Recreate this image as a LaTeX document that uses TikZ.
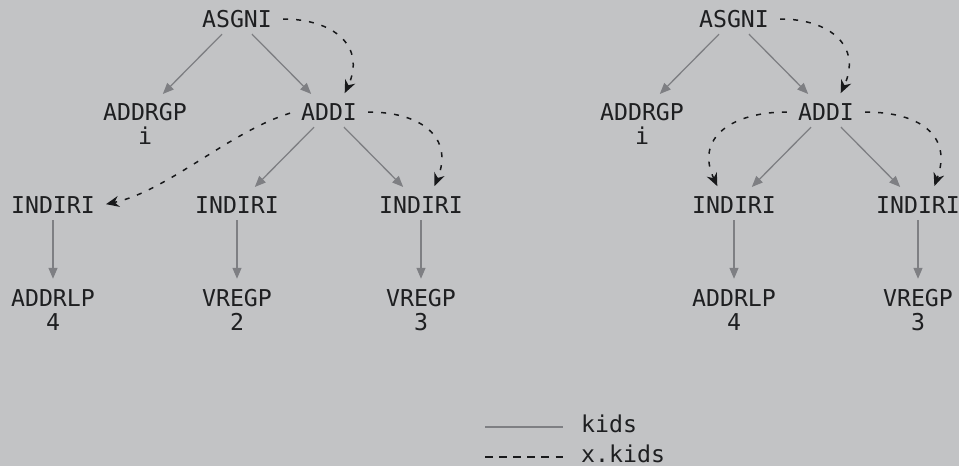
\documentclass[tikz,border=0pt]{standalone}
\usepackage{fontspec}
\setmonofont{DejaVu Sans Mono}
\usetikzlibrary{arrows.meta,calc,positioning}
\definecolor{ink}{HTML}{1E1F21}
\definecolor{kidgray}{HTML}{7E7F83}
\definecolor{xkidink}{HTML}{18191B}
\definecolor{paper}{HTML}{C2C3C5}
\tikzset{
  font=\ttfamily\fontsize{23.2pt}{28pt}\selectfont,
  op/.style={
    text=ink,
    inner sep=7pt,
    text height=16pt,
    text depth=0pt,
    label distance=4pt
  },
  val/.style={
    text=ink,
    inner sep=0pt,
    text height=17pt,
    text depth=0pt
  },
  kid/.style={
    -{Triangle[length=11pt,width=9pt]},
    draw=kidgray,
    line width=1.3pt,
    shorten >=4pt
  },
  xkid/.style={
    -{Stealth[length=13pt,width=11pt]},
    draw=xkidink,
    line width=1.5pt,
    dash pattern=on 5pt off 8pt,
    shorten <=4pt,
    shorten >=4pt
  },
  kidkey/.style={
    draw=kidgray,
    line width=2pt
  },
  xkidkey/.style={
    draw=xkidink,
    line width=1.4pt,
    dash pattern=on 7.5pt off 6.6pt
  },
  keytext/.style={
    anchor=base west,
    inner sep=0pt,
    text=ink
  }
}
\begin{document}
\begin{tikzpicture}[node distance=93pt and 92pt, on grid]
  \useasboundingbox[fill=paper] (0,0) rectangle (959pt,-466pt);

  % before
  \node[op] (asgnL) at (237pt,-19pt) {ASGNI};
  \node[op, below left=of asgnL, label={[val]below:i}] (addrgpL) {ADDRGP};
  \node[op, below right=of asgnL] (addiL) {ADDI};
  \node[op, below left=93pt and 276pt of addiL] (indL1) {INDIRI};
  \node[op, below left=of addiL] (indL2) {INDIRI};
  \node[op, below right=of addiL] (indL3) {INDIRI};
  \node[op, below=of indL1, label={[val]below:4}] (addrlpL) {ADDRLP};
  \node[op, below=of indL2, label={[val]below:2}] (vregL2) {VREGP};
  \node[op, below=of indL3, label={[val]below:3}] (vregL3) {VREGP};

  \draw[kid] (asgnL) -- (addrgpL);
  \draw[kid] (asgnL) -- (addiL);
  \draw[kid] (addiL) -- (indL2);
  \draw[kid] (addiL) -- (indL3);
  \draw[kid] (indL1) -- (addrlpL);
  \draw[kid] (indL2) -- (vregL2);
  \draw[kid] (indL3) -- (vregL3);

  \draw[xkid] (asgnL.east) to[out=0, in=65, looseness=1.4] ([xshift=14pt]addiL.north);
  \draw[xkid] (addiL.east) to[out=0, in=68, looseness=1.4] ([xshift=12pt]indL3.north);
  \draw[xkid] (addiL.west) to[out=197, in=12, looseness=0.8] (indL1.east);

  % after
  \node[op] (asgnR) at (734pt,-19pt) {ASGNI};
  \node[op, below left=of asgnR, label={[val]below:i}] (addrgpR) {ADDRGP};
  \node[op, below right=of asgnR] (addiR) {ADDI};
  \node[op, below left=of addiR] (indR1) {INDIRI};
  \node[op, below right=of addiR] (indR2) {INDIRI};
  \node[op, below=of indR1, label={[val]below:4}] (addrlpR) {ADDRLP};
  \node[op, below=of indR2, label={[val]below:3}] (vregR2) {VREGP};

  \draw[kid] (asgnR) -- (addrgpR);
  \draw[kid] (asgnR) -- (addiR);
  \draw[kid] (addiR) -- (indR1);
  \draw[kid] (addiR) -- (indR2);
  \draw[kid] (indR1) -- (addrlpR);
  \draw[kid] (indR2) -- (vregR2);

  \draw[xkid] (asgnR.east) to[out=0, in=65, looseness=1.4] ([xshift=13pt]addiR.north);
  \draw[xkid] (addiR.east) to[out=0, in=70, looseness=1.4] ([xshift=15pt]indR2.north);
  \draw[xkid] (addiR.west) to[out=180, in=115, looseness=1.4] ([xshift=-15pt]indR1.north);

  % key
  \coordinate (kidsA) at (485pt,-427pt);
  \coordinate (kidsB) at (563pt,-427pt);
  \coordinate (xkidsA) at (485pt,-457pt);
  \coordinate (xkidsB) at (563pt,-457pt);
  \draw[kidkey] (kidsA) -- (kidsB);
  \draw[xkidkey] (xkidsA) -- (xkidsB);
  \node[keytext] (kidslbl) at ($(kidsB)+(18pt,-5pt)$) {kids};
  \node[keytext] (xkidslbl) at ($(xkidsB)+(18pt,-5pt)$) {x.kids};
\end{tikzpicture}
\end{document}
